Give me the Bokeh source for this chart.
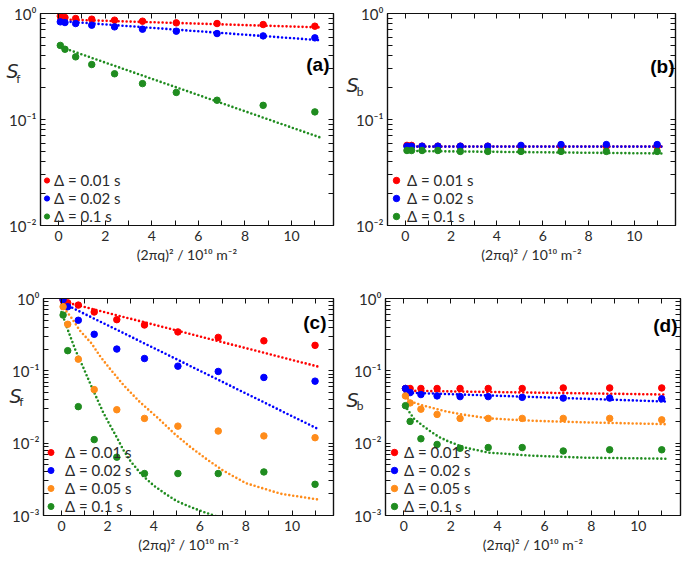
from bokeh.plotting import figure
from bokeh.models import (FixedTicker, LinearAxis, LogAxis, Range1d, Label, Legend, LegendItem,
                          CustomJSTickFormatter)
from bokeh.layouts import column, row
from bokeh.embed import file_html
from bokeh.resources import INLINE

# ---------------- data ----------------
q2 = [0.07, 0.27, 0.73, 1.42, 2.4, 3.6, 5.05, 6.8, 8.78, 11.0]

# (a) S_f
a_d001 = [0.944, 0.917, 0.897, 0.884, 0.865, 0.846, 0.816, 0.804, 0.787, 0.759]
a_d002 = [0.834, 0.822, 0.804, 0.776, 0.748, 0.711, 0.681, 0.647, 0.615, 0.589]
a_d01 = [0.50, 0.46, 0.39, 0.33, 0.27, 0.218, 0.18, 0.152, 0.136, 0.118]
a_fit_x = [0.0, 11.2]
a_fit_d001 = [0.88, 0.74]
a_fit_d002 = [0.85, 0.56]
a_fit_d01 = [0.49, 0.068]

# (b) S_b
b_d001 = [0.057, 0.057, 0.056, 0.056, 0.056, 0.056, 0.056, 0.056, 0.056, 0.056]
b_d002 = [0.056, 0.056, 0.056, 0.056, 0.056, 0.056, 0.057, 0.058, 0.058, 0.058]
b_d01 = [0.051, 0.051, 0.051, 0.051, 0.050, 0.050, 0.050, 0.050, 0.050, 0.050]
b_fit_x = [0.0, 11.2]
b_fit_d001 = [0.0555, 0.0555]
b_fit_d002 = [0.0555, 0.0555]
b_fit_d01 = [0.0505, 0.0478]

# (c) S_f
c_d001 = [0.95, 0.87, 0.81, 0.65, 0.51, 0.43, 0.345, 0.29, 0.26, 0.225]
c_d002 = [0.97, 0.77, 0.50, 0.32, 0.20, 0.148, 0.116, 0.098, 0.081, 0.072]
c_d005 = [0.77, 0.44, 0.145, 0.055, 0.029, 0.022, 0.0172, 0.0147, 0.0126, 0.0119]
c_d01 = [0.59, 0.19, 0.032, 0.0112, 0.0064, 0.0038, 0.0038, 0.0038, 0.0040, 0.0027]
c_fit_lin_x = [0.0, 11.2]
c_fit_d001 = [0.92, 0.113]
c_fit_d002 = [0.88, 0.0153]
c_fit_d005_x = [0.0, 0.4, 0.8, 1.3, 1.7, 2.1, 2.7, 3.4, 4.2, 4.9, 5.6, 6.3, 7.0, 8.0, 9.5, 11.2]
c_fit_d005 = [0.81, 0.56, 0.36, 0.24, 0.155, 0.107, 0.063, 0.037, 0.022, 0.0135, 0.0088,
              0.006, 0.0042, 0.0028, 0.002, 0.00165]
c_fit_d01_x = [0.0, 0.3, 0.6, 0.9, 1.2, 1.5, 1.8, 2.1, 2.4, 2.7, 3.0, 3.5, 4.0, 4.5, 5.0,
               5.5, 6.0, 6.6, 7.2]
c_fit_d01 = [0.65, 0.35, 0.195, 0.12, 0.072, 0.044, 0.027, 0.0178, 0.012, 0.0079, 0.0056,
             0.0036, 0.0026, 0.0020, 0.00158, 0.00135, 0.00117, 0.0010, 0.00089]

# (d) S_b
d_d001 = [0.057, 0.057, 0.057, 0.057, 0.057, 0.057, 0.057, 0.058, 0.058, 0.058]
d_d002 = [0.057, 0.050, 0.047, 0.045, 0.044, 0.044, 0.043, 0.042, 0.042, 0.041]
d_d005 = [0.045, 0.036, 0.0295, 0.025, 0.022, 0.022, 0.022, 0.022, 0.022, 0.021]
d_d01 = [0.033, 0.020, 0.0115, 0.0096, 0.0085, 0.0087, 0.0087, 0.0078, 0.0081, 0.0081]
d_fit_d001_x = [0.15, 11.2]
d_fit_d001 = [0.053, 0.047]
d_fit_d002_x = [0.05, 11.2]
d_fit_d002 = [0.050, 0.0376]
d_fit_d005_x = [0.05, 0.3, 0.7, 1.16, 1.8, 2.46, 3.62, 5.5, 7.7, 11.2]
d_fit_d005 = [0.045, 0.0376, 0.034, 0.031, 0.0275, 0.025, 0.022, 0.0204, 0.0194, 0.0183]
d_fit_d01_x = [0.05, 0.43, 0.8, 1.16, 1.5, 1.89, 2.6, 3.62, 5.5, 7.7, 11.2]
d_fit_d01 = [0.033, 0.0218, 0.0175, 0.0144, 0.0122, 0.0106, 0.0087, 0.0074, 0.0067, 0.0063, 0.0061]

labels_delta = ["Δ = 0.01 s", "Δ = 0.02 s", "Δ = 0.05 s", "Δ = 0.1 s"]
colors = {"0.01": "#ff0000", "0.02": "#0000ff", "0.05": "#ff8c1a", "0.1": "#1f8c1f"}

x_major = [0, 2, 4, 6, 8, 10]
x_minor = [1, 3, 5, 7, 9, 11]
y_major = [1e-3, 1e-2, 1e-1, 1.0]
y_minor = [m * d for d in [1e-3, 1e-2, 1e-1] for m in range(2, 10)]
y_tick_labels = ["10⁻³", "10⁻²", "10⁻¹", "10⁰"]
x_label = "(2πq)² / 10¹⁰ m⁻²"
y_symbol = "S"

FONT = "Lato"
TXT = "#2a2a2a"

fmt_y = CustomJSTickFormatter(args=dict(yvals=y_major, ylabs=y_tick_labels), code="""
for (let i = 0; i < yvals.length; i++) {
  if (Math.abs(Math.log10(yvals[i]) - Math.log10(tick)) < 1e-6) return ylabs[i];
}
return "";
""")
fmt_empty = CustomJSTickFormatter(code="return '';")


def style_axis(ax, labels=True):
    ax.axis_line_color = "#111111"
    ax.axis_line_width = 1.2
    ax.major_tick_in = 5
    ax.major_tick_out = 0
    ax.minor_tick_in = 5
    ax.minor_tick_out = 0
    ax.major_tick_line_color = "#111111"
    ax.minor_tick_line_color = "#111111"
    ax.major_label_text_font = FONT
    ax.major_label_text_font_size = "15px"
    ax.major_label_text_color = TXT
    if not labels:
        ax.major_label_standoff = 0
        ax.axis_label_standoff = 0


def text_axis(pos_value, txt, font, size, style, standoff):
    # an invisible left axis that only carries one text label (y-axis title pieces)
    ax = LogAxis(ticker=FixedTicker(ticks=[pos_value]),
                 formatter=CustomJSTickFormatter(args=dict(t=txt), code="return t;"))
    ax.axis_line_alpha = 0
    ax.major_tick_in = 0
    ax.major_tick_out = 0
    ax.minor_tick_in = 0
    ax.minor_tick_out = 0
    ax.major_tick_line_alpha = 0
    ax.minor_tick_line_alpha = 0
    ax.major_label_standoff = standoff
    ax.major_label_text_font = font
    ax.major_label_text_font_size = size
    ax.major_label_text_font_style = style
    ax.major_label_text_color = TXT
    return ax


def make_panel(w, h, bl, br, bt, bb, y_lo, series, fits, letter, letter_xy, ylab, ylab_pos,
               leg_glyph_w, leg_standoff):
    p = figure(width=w, height=h, y_axis_type="log", output_backend="svg",
               toolbar_location=None, x_range=Range1d(-0.78, 11.8), y_range=Range1d(y_lo, 1.0),
               min_border_left=bl, min_border_right=br, min_border_top=bt, min_border_bottom=bb,
               x_axis_location="below", y_axis_location="left")
    p.grid.visible = False
    p.outline_line_color = "#111111"
    p.outline_line_width = 1.2
    p.background_fill_color = "white"
    p.border_fill_color = "white"

    xt = FixedTicker(ticks=x_major, minor_ticks=x_minor)
    yt = FixedTicker(ticks=y_major, minor_ticks=y_minor)

    xa = p.xaxis[0]
    xa.ticker = xt
    style_axis(xa)
    xa.major_label_text_font_size = "14px"
    xa.major_label_standoff = 5
    xa.axis_label = x_label
    xa.axis_label_text_font = FONT
    xa.axis_label_text_font_size = "14px"
    xa.axis_label_text_font_style = "normal"
    xa.axis_label_text_color = TXT
    xa.axis_label_standoff = 2

    ya = p.yaxis[0]
    ya.ticker = yt
    ya.formatter = fmt_y
    style_axis(ya)
    ya.major_label_standoff = 4

    # y-axis title "S" (italic) with its subscript, as extra text-only axes
    s_val, s_off, sub_val, sub_off = ylab_pos
    p.add_layout(text_axis(s_val, y_symbol, "DejaVu Sans", "19px", "italic", s_off), "left")
    p.add_layout(text_axis(sub_val, ylab, FONT, "12px", "normal", sub_off), "left")

    top = LinearAxis(ticker=xt, formatter=fmt_empty)
    style_axis(top, labels=False)
    p.add_layout(top, "above")
    right = LogAxis(ticker=yt, formatter=fmt_empty)
    style_axis(right, labels=False)
    p.add_layout(right, "right")

    for fx, fy, key in fits:
        p.line(fx, fy, line_color=colors[key], line_width=2.6, line_dash="0 4", line_cap="round")

    items = []
    for ys, key, lab in series:
        r = p.scatter(q2, ys, size=6.5, marker="circle", fill_color=colors[key], line_color=colors[key])
        items.append(LegendItem(label=lab, renderers=[r]))

    leg = Legend(items=items, location=(0, 0), padding=0, margin=0, spacing=0,
                 glyph_width=leg_glyph_w, glyph_height=16, label_height=16,
                 label_standoff=leg_standoff, label_text_font=FONT, label_text_font_size="15px",
                 label_text_color=TXT, background_fill_alpha=0, border_line_alpha=0)
    p.add_layout(leg)

    p.add_layout(Label(x=letter_xy[0], y=letter_xy[1], x_units="screen", y_units="screen",
                       text=letter, text_font="Liberation Sans", text_font_style="bold",
                       text_font_size="19px", text_align="right", text_baseline="middle",
                       text_color="black"))
    return p


pa = make_panel(343, 279, 40, 10, 13, 54, 1e-2,
                [(a_d001, "0.01", labels_delta[0]), (a_d002, "0.02", labels_delta[1]),
                 (a_d01, "0.1", labels_delta[3])],
                [(a_fit_x, a_fit_d001, "0.01"), (a_fit_x, a_fit_d002, "0.02"),
                 (a_fit_x, a_fit_d01, "0.1")],
                "(a)", (289, 161), "f", (0.284, -12, 0.245, -17), 13, 1)

pb = make_panel(341, 279, 44, 9, 13, 54, 1e-2,
                [(b_d001, "0.01", labels_delta[0]), (b_d002, "0.02", labels_delta[1]),
                 (b_d01, "0.1", labels_delta[3])],
                [(b_fit_x, b_fit_d001, "0.01"), (b_fit_x, b_fit_d002, "0.02"),
                 (b_fit_x, b_fit_d01, "0.1")],
                "(b)", (287, 159), "b", (0.21, -5, 0.185, -20), 18, 2)

pc = make_panel(343, 283, 43, 10, 19, 47, 1e-3,
                [(c_d001, "0.01", labels_delta[0]), (c_d002, "0.02", labels_delta[1]),
                 (c_d005, "0.05", labels_delta[2]), (c_d01, "0.1", labels_delta[3])],
                [(c_fit_lin_x, c_fit_d001, "0.01"), (c_fit_lin_x, c_fit_d002, "0.02"),
                 (c_fit_d005_x, c_fit_d005, "0.05"), (c_fit_d01_x, c_fit_d01, "0.1")],
                "(c)", (283, 193), "f", (0.0455, -12, 0.038, -17), 15, 7)

pd = make_panel(341, 283, 42, 4, 19, 47, 1e-3,
                [(d_d001, "0.01", labels_delta[0]), (d_d002, "0.02", labels_delta[1]),
                 (d_d005, "0.05", labels_delta[2]), (d_d01, "0.1", labels_delta[3])],
                [(d_fit_d001_x, d_fit_d001, "0.01"), (d_fit_d002_x, d_fit_d002, "0.02"),
                 (d_fit_d005_x, d_fit_d005, "0.05"), (d_fit_d01_x, d_fit_d01, "0.1")],
                "(d)", (292, 190), "b", (0.039, -7, 0.033, -20), 18, 1)

layout = column(row(pa, pb), row(pc, pd))
open("out.html", "w").write(file_html(layout, INLINE))
